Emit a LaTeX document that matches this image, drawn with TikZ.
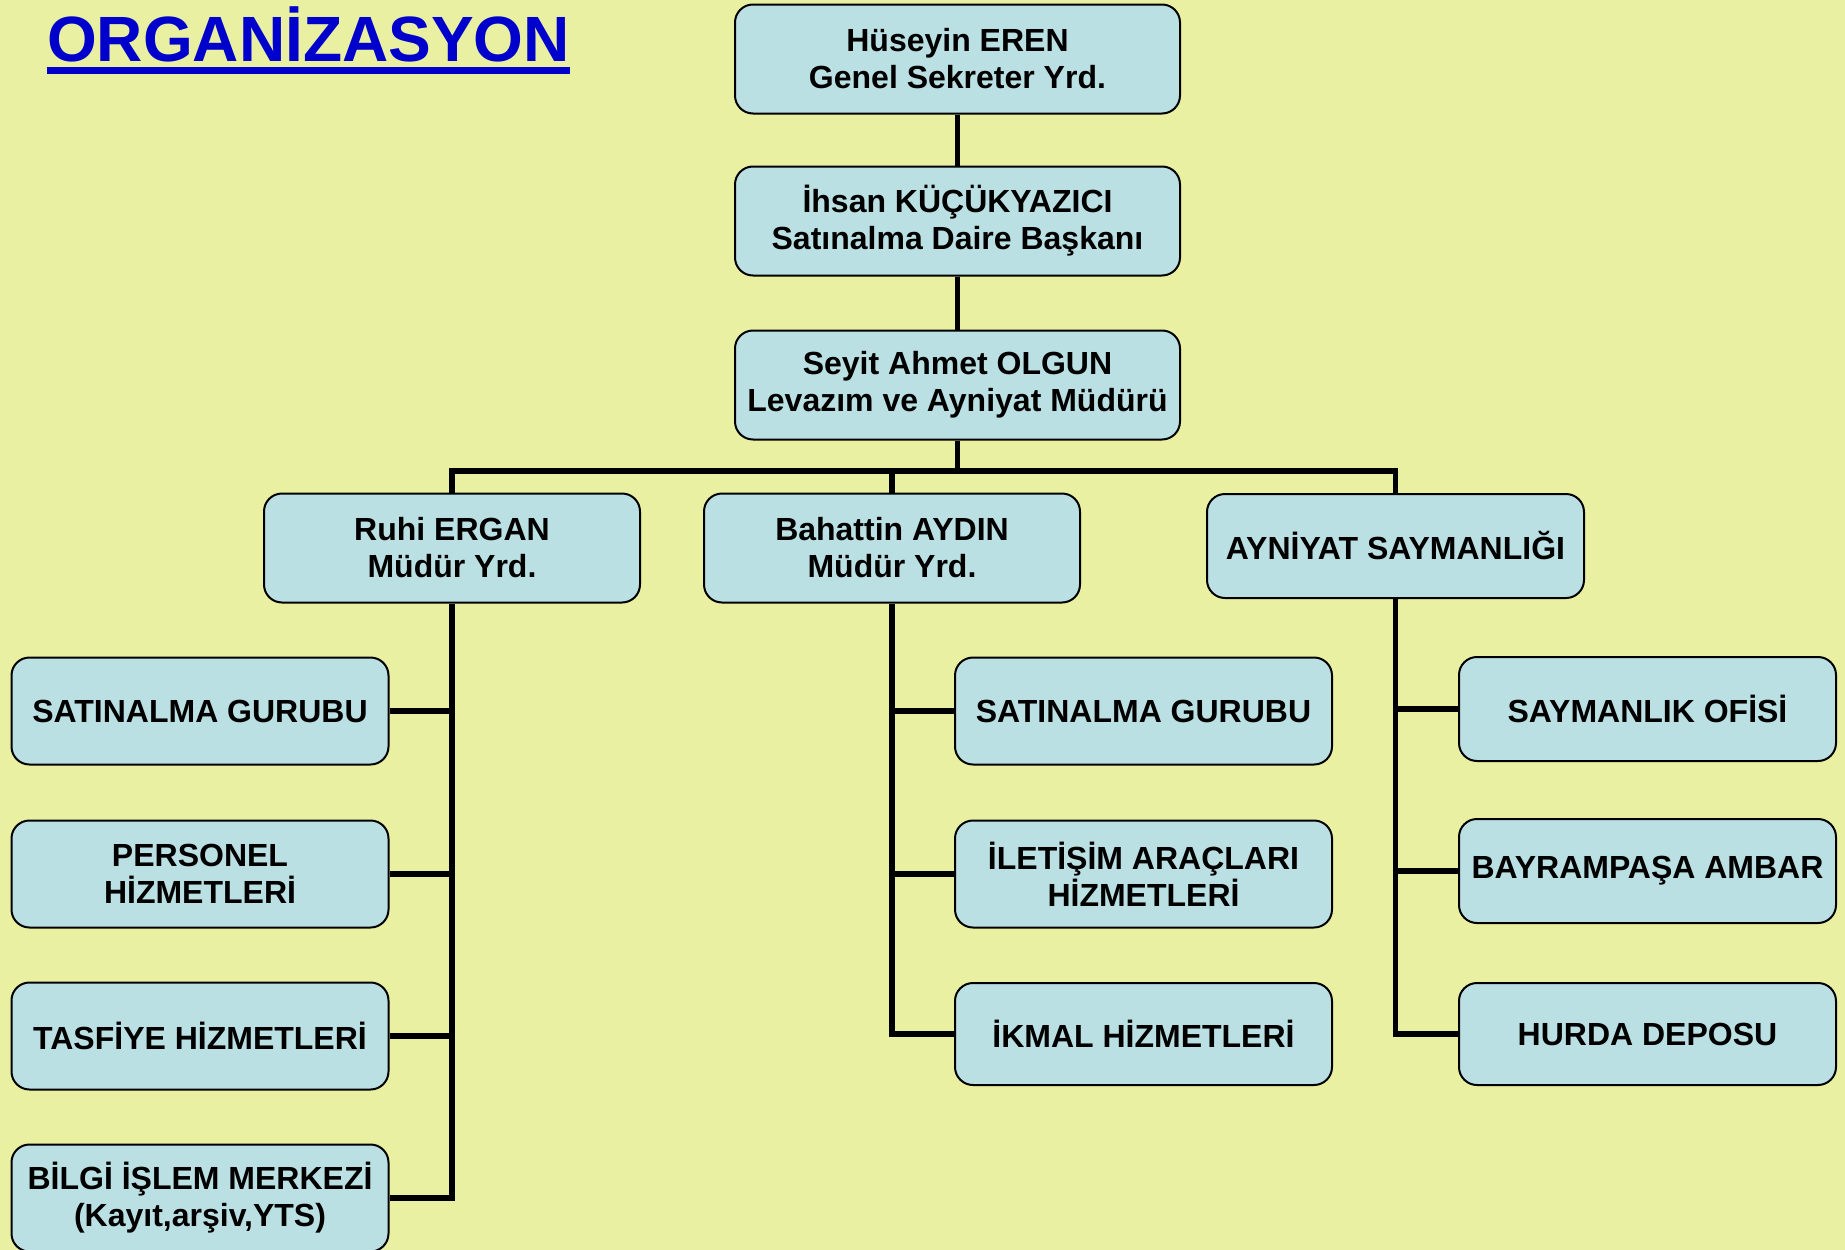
\documentclass[tikz,border=0pt]{standalone}
\usepackage{fontspec}
\setmainfont{Liberation Sans}
\definecolor{bgyellow}{RGB}{234,240,162}
\definecolor{boxblue}{RGB}{187,224,227}
\definecolor{titleblue}{RGB}{0,0,204}
\begin{document}
\begin{tikzpicture}[x=1pt,y=-1pt,
    unit/.style={draw=black,line width=2pt,fill=boxblue,rounded corners=18pt,align=center,
      inner xsep=4pt,font=\bfseries\fontsize{32}{37}\selectfont},
    topunit/.style={unit,minimum width=445pt,minimum height=109pt},
    subunit/.style={unit,minimum width=376pt,minimum height=109pt},
    leaf/.style={unit,minimum width=377pt,minimum height=107pt},
    link/.style={line width=5.5pt}]
                \fill[bgyellow] (0,0) rectangle (1845,1250);
                \useasboundingbox (0,0) rectangle (1845,1250);
                \node[anchor=base west,inner sep=0pt,text=titleblue,font=\bfseries\fontsize{64}{72}\selectfont] (title) at (47,61) {ORGANİZASYON};
                \draw[titleblue,line width=7pt] ([yshift=-9.5pt]title.base west) -- ([yshift=-9.5pt]title.base east);
                \node[topunit] (genel) at (957.5,59) {Hüseyin EREN\\Genel Sekreter Yrd.};
                \node[topunit] (daire) at (957.5,221) {İhsan KÜÇÜKYAZICI\\Satınalma Daire Başkanı};
                \node[topunit] (mudur) at (957.5,385) {Seyit Ahmet OLGUN\\Levazım ve Ayniyat Müdürü};
                \node[subunit] (ruhi) at (452,548) {Ruhi ERGAN\\Müdür Yrd.};
                \node[subunit] (bahattin) at (892,548) {Bahattin AYDIN\\Müdür Yrd.};
                \node[subunit,minimum width=377pt,minimum height=104pt] (sayman) at (1395.5,546) {AYNİYAT SAYMANLIĞI};
                \node[leaf] (lsat) at (200,711) {SATINALMA GURUBU};
                \node[leaf] (lper) at (200,874) {PERSONEL\\HİZMETLERİ};
                \node[leaf] (ltas) at (200,1036) {TASFİYE HİZMETLERİ};
                \node[leaf] (lbil) at (200,1198) {BİLGİ İŞLEM MERKEZİ\\(Kayıt,arşiv,YTS)};
                \node[leaf] (msat) at (1143.5,711) {SATINALMA GURUBU};
                \node[leaf] (mile) at (1143.5,874) {İLETİŞİM ARAÇLARI\\HİZMETLERİ};
                \node[leaf,minimum height=102pt] (mikm) at (1143.5,1034) {İKMAL HİZMETLERİ};
                \node[leaf,minimum height=104pt] (rofi) at (1647.5,709) {SAYMANLIK OFİSİ};
                \node[leaf,minimum height=104pt] (ramb) at (1647.5,871) {BAYRAMPAŞA AMBAR};
                \node[leaf,minimum height=102pt] (rhur) at (1647.5,1034) {HURDA DEPOSU};
                \coordinate (bus) at (957.5,471);
                \draw[link] (genel) -- (daire);
                \draw[link] (daire) -- (mudur);
                \draw[link] (mudur) -- (bus);
                \draw[link] (ruhi.north) |- (bus) -| (sayman.north);
                \draw[link] (bahattin.north) -- (bahattin.north |- bus);
                \draw[link] (ruhi.south) |- (lbil.east);
                \foreach \n in {lsat,lper,ltas} \draw[link] (\n.east) -- (\n.east -| ruhi.south);
                \draw[link] (bahattin.south) |- (mikm.west);
                \foreach \n in {msat,mile} \draw[link] (\n.west) -- (\n.west -| bahattin.south);
                \draw[link] (sayman.south) |- (rhur.west);
                \foreach \n in {rofi,ramb} \draw[link] (\n.west) -- (\n.west -| sayman.south);
            \end{tikzpicture}
\end{document}
